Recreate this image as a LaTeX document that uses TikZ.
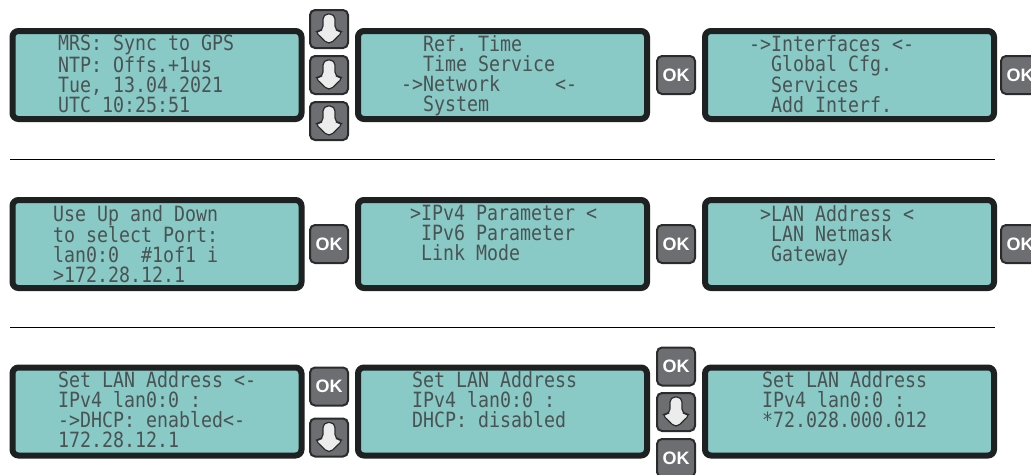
\documentclass[tikz,border=0pt]{standalone}
\usepackage{fontspec}
\usepackage{tikz}
\newfontfamily\lcdfont[FakeStretch=0.87]{DejaVu Sans Mono}
\newfontfamily\keyfont{Liberation Sans}
\definecolor{lcdface}{HTML}{89C9C6}
\definecolor{lcdframe}{HTML}{1D2121}
\definecolor{lcdink}{HTML}{4A5353}
\definecolor{btnface}{HTML}{6D6E71}
\definecolor{btnedge}{HTML}{2B2B2B}
\definecolor{arrowface}{HTML}{ECECEC}
\newcommand\lcdstrut{\rule{0pt}{17pt}}

\begin{document}
\begin{tikzpicture}[
    x=1pt, y=-1pt,
    lcd/.style={draw=lcdframe, line width=6pt, fill=lcdface, rounded corners=6pt,
                minimum width=289pt, minimum height=88pt, inner sep=0pt},
    lcdtext/.style={anchor=north west, inner sep=0pt, align=left, text=lcdink,
                    font=\lcdfont\fontsize{21}{20}\selectfont\frenchspacing,
                    execute at begin node=\lcdstrut},
    btn/.style={draw=btnedge, line width=2pt, fill=btnface, rounded corners=5pt,
                minimum size=38pt, inner sep=0pt},
    okbtn/.style={btn, text=white, font=\keyfont\bfseries\fontsize{18}{18}\selectfont},
    downbtn/.style={btn, path picture={
        \draw[shift={(path picture bounding box.center)}, draw=btnedge, fill=arrowface,
              line width=1.2pt, line join=miter]
          (-6,-15) -- (6,-15) -- (6,2) -- (14.5,2) -- (0,16) -- (-14.5,2) -- (-6,2) -- cycle;}},
    sep/.style={black, line width=1pt},
]
  \useasboundingbox (0,0) rectangle (1031,474);
  \clip (0,0) rectangle (1031,474);

  % row 1: main menu
  \node[lcd] (d11) at (157,75) {};
  \node[lcd] (d12) at (502.5,75) {};
  \node[lcd] (d13) at (849.5,75) {};
  \node[lcdtext] (t11) at (58,35) {MRS: Sync to GPS\\NTP: Offs.+1us\\Tue, 13.04.2021\\UTC 10:25:51};
  \node[lcdtext] (t12) at (401,35) {~~Ref. Time\\~~Time Service\\->Network~~~~~<-\\~~System};
  \node[lcdtext] (t13) at (749,35) {->Interfaces~<-\\~~Global Cfg.\\~~Services\\~~Add Interf.};
  \node[downbtn] (k11) at (329,29) {};
  \node[downbtn] (k12) at (329,75) {};
  \node[downbtn] (k13) at (329,121) {};
  \node[okbtn] (k14) at (676,75) {OK};
  \node[okbtn] (k15) at (1020,75) {OK};

  \draw[sep] (10,159) -- (995,159);

  % row 2: port and parameter selection
  \node[lcd] (d21) at (157,244) {};
  \node[lcd] (d22) at (502.5,244) {};
  \node[lcd] (d23) at (849.5,244) {};
  \node[lcdtext] (t21) at (53,205) {Use Up and Down\\to select Port:\\lan0:0~~\#1of1 i\\>172.28.12.1};
  \node[lcdtext] (t22) at (410,205) {>IPv4 Parameter~<\\~IPv6 Parameter\\~Link Mode};
  \node[lcdtext] (t23) at (760,205) {>LAN Address~<\\~LAN Netmask\\~Gateway};
  \node[okbtn] (k21) at (329,244) {OK};
  \node[okbtn] (k22) at (676,244) {OK};
  \node[okbtn] (k23) at (1020,244) {OK};

  \draw[sep] (10,327) -- (995,327);

  % row 3: set the address
  \node[lcd] (d31) at (157,411.5) {};
  \node[lcd] (d32) at (502.5,411.5) {};
  \node[lcd] (d33) at (849.5,411.5) {};
  \node[lcdtext] (t31) at (58,371) {Set LAN Address~<-\\IPv4 lan0:0~:\\->DHCP: enabled<-\\172.28.12.1};
  \node[lcdtext] (t32) at (412,371) {Set LAN Address\\IPv4 lan0:0~:\\DHCP: disabled};
  \node[lcdtext] (t33) at (762,371) {Set LAN Address\\IPv4 lan0:0~:\\*72.028.000.012};
  \node[okbtn] (k31) at (329,386.5) {OK};
  \node[downbtn] (k32) at (329,437.5) {};
  \node[okbtn] (k33) at (676,366.5) {OK};
  \node[downbtn] (k34) at (676,412) {};
  \node[okbtn] (k35) at (676,458) {OK};
\end{tikzpicture}
\end{document}
